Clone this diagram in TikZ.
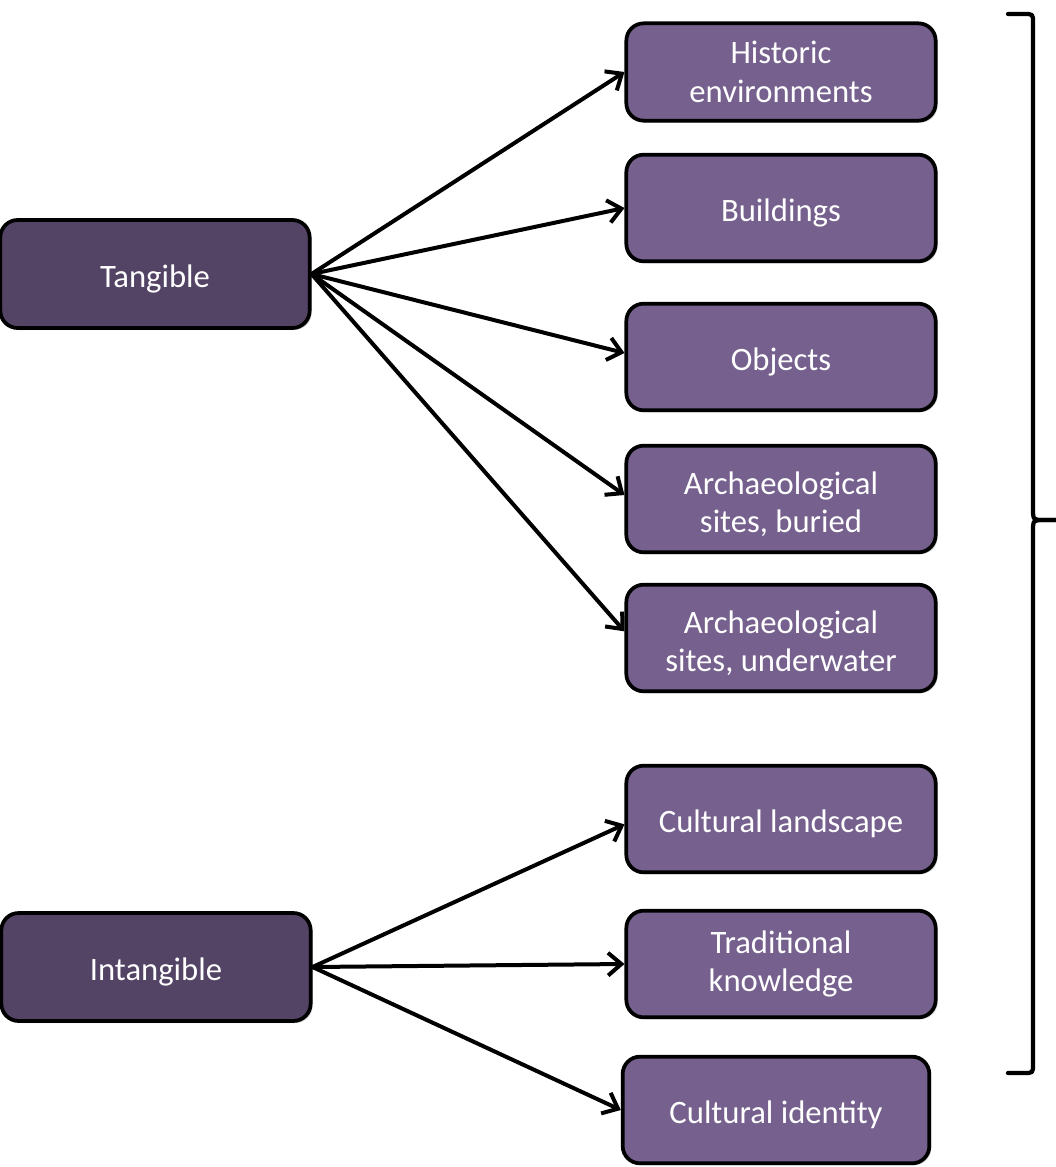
\documentclass[tikz,border=0pt]{standalone}
\usepackage{fontspec}
\setmainfont{Carlito}
\usetikzlibrary{arrows.meta,shadows}
\definecolor{boxA}{RGB}{117,96,142}
\definecolor{boxB}{RGB}{83,67,100}
\begin{document}
\begin{tikzpicture}[x=0.75pt,y=-0.75pt,
  basebox/.style={draw=black, line width=2.8pt, rounded corners=13pt, text=white,
    align=center, inner sep=0pt, font=\fontsize{24.5}{29}\selectfont,
    drop shadow={shadow xshift=1.5pt, shadow yshift=-1.5pt, opacity=0.35}},
  rbox/.style={basebox, fill=boxA, minimum width=232pt, minimum height=80pt},
  lbox/.style={basebox, fill=boxB, minimum width=232pt, minimum height=81pt},
  oneline/.style={text height=22pt, text depth=1.4pt},
  lowtwo/.style={text height=50.5pt, text depth=0pt},
  conn/.style={line width=3pt, -{Straight Barb[length=10pt,width=17pt,line width=3pt]}},
  bracestyle/.style={line width=3.2pt, line cap=round, line join=round}]
\useasboundingbox (0,0) rectangle (1056,1167);

\node[lbox, oneline] (tan) at (155,274) {Tangible};
\node[lbox, oneline] (intan) at (156,967) {Intangible};

\node[rbox, minimum height=73pt] (hist) at (781,72) {Historic\\environments};
\node[rbox, oneline] (bld) at (781,208) {Buildings};
\node[rbox, oneline] (obj) at (781,357) {Objects};
\node[rbox, lowtwo] (arb) at (781,499) {Archaeological\\sites, buried};
\node[rbox, lowtwo] (aru) at (781,638) {Archaeological\\sites, underwater};
\node[rbox, oneline] (cl) at (781,819) {Cultural landscape};
\node[rbox] (tk) at (781,964) {Traditional\\knowledge};
\node[rbox, oneline, minimum width=230pt] (ci) at (776,1110) {Cultural identity};

\draw[conn] (tan.east) -- (hist.west);
\draw[conn] (tan.east) -- (bld.west);
\draw[conn] (tan.east) -- ([yshift=3pt]obj.west);
\draw[conn] (tan.east) -- ([yshift=3pt]arb.west);
\draw[conn] (tan.east) -- ([yshift=5pt]aru.west);

\draw[conn] (intan.east) -- ([yshift=-4pt]cl.west);
\draw[conn] (intan.east) -- (tk.west);
\draw[conn] (intan.east) -- (ci.west);

\coordinate (btop) at (1008,14);
\coordinate (bmid) at (1056,520);
\coordinate (bbot) at (1008,1073);
\draw[bracestyle] (btop) -- (1024,14) .. controls (1033,14) .. (1033,23) -- (1033,508)
  .. controls (1033,520) .. (1044,520) -- (bmid);
\draw[bracestyle] (bmid) -- (1044,520) .. controls (1033,520) .. (1033,532) -- (1033,1064)
  .. controls (1033,1073) .. (1024,1073) -- (bbot);
\end{tikzpicture}
\end{document}
